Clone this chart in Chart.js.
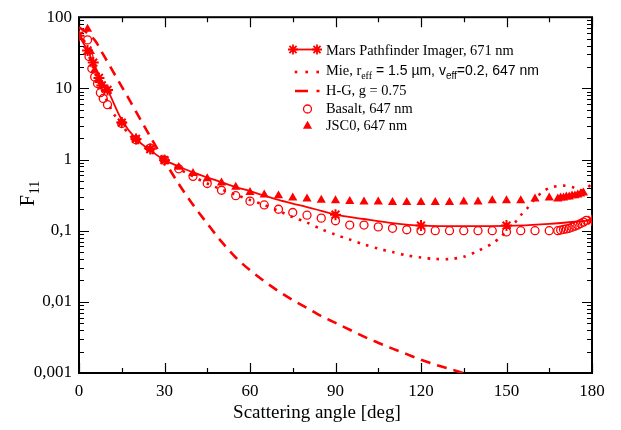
<!DOCTYPE html>
<html>
<head>
<meta charset="utf-8">
<script src="https://cdn.jsdelivr.net/npm/chart.js@4.4.1/dist/chart.umd.min.js"></script>
<style>
  html, body { margin: 0; padding: 0; background: #fff; }
  canvas { display: block; }
</style>
</head>
<body>
<canvas id="chart" width="621" height="430" style="width:621px;height:430px"></canvas>
<script>
// Mars Pathfinder Imager, 671 nm (asterisks)
const mpiAngles = [0, 3, 5, 7, 8, 10, 15, 20, 25, 30, 90, 120, 150, 180];
const mpiValues = [55, 34, 23, 14, 11, 9.5, 3.3, 1.95, 1.4, 0.98, 0.168, 0.118, 0.118, 0.14];

// solid curve drawn through the asterisks
const fitAngles = [0, 3, 5, 7, 10, 15, 20, 25, 30, 35, 40, 45, 50, 55, 60, 65, 70, 75, 80, 85, 90, 100, 110, 120, 135, 150, 165, 180];
const fitValues = [55, 34, 23, 15, 9.5, 3.6, 1.95, 1.35, 0.98, 0.8, 0.66, 0.56, 0.48, 0.41, 0.36, 0.31, 0.27, 0.24, 0.215, 0.19, 0.168, 0.146, 0.128, 0.118, 0.116, 0.117, 0.125, 0.14];

// Mie, reff = 1.5 um, veff = 0.2, 647 nm (dotted)
const mieAngles = [0, 2, 4, 6, 8, 10, 12, 15, 17, 20, 25, 30, 35, 40, 45, 50, 55, 60, 65, 70, 75, 80, 85, 90, 95, 100, 105, 110, 115, 120, 125, 130, 135, 140, 145, 148, 150, 153, 155, 157, 160, 163, 166, 170, 173, 176, 178, 180];
const mieValues = [62, 45, 25, 15, 9.5, 6.5, 4.5, 3.1, 2.4, 1.8, 1.3, 0.97, 0.74, 0.58, 0.46, 0.38, 0.32, 0.27, 0.23, 0.19, 0.155, 0.13, 0.105, 0.088, 0.075, 0.064, 0.056, 0.05, 0.045, 0.042, 0.04, 0.04, 0.043, 0.052, 0.066, 0.082, 0.1, 0.13, 0.165, 0.2, 0.28, 0.36, 0.41, 0.43, 0.41, 0.37, 0.39, 0.46];

// H-G, g = 0.75 (dashed)
const hgAngles = [0, 2, 4, 6, 8, 10, 12, 15, 17, 20, 25, 30, 35, 40, 45, 50, 55, 60, 65, 70, 75, 80, 85, 90, 95, 100, 105, 110, 115, 120, 125, 130, 140];
const hgValues = [72, 64, 55, 44.8, 32.4, 23.6, 17.1, 10.6, 7.7, 4.7, 2.1, 0.95, 0.454, 0.231, 0.126, 0.07, 0.042, 0.0278, 0.0195, 0.0141, 0.0106, 0.0082, 0.0063, 0.00506, 0.00405, 0.00324, 0.00266, 0.0022, 0.00184, 0.00154, 0.00131, 0.00114, 0.00087];

// Basalt, 647 nm (open circles)
const basaltAngles = [3, 3.5, 4.5, 5.5, 6.5, 7.5, 8.5, 10, 15, 20, 25, 30, 35, 40, 45, 50, 55, 60, 65, 70, 75, 80, 85, 90, 95, 100, 105, 110, 115, 120, 125, 130, 135, 140, 145, 150, 155, 160, 165, 168, 169, 170, 171, 172, 173, 174, 175, 176, 177, 178];
const basaltValues = [48, 28, 19, 14.5, 11.7, 8.7, 7.2, 5.9, 3.2, 1.9, 1.45, 0.98, 0.74, 0.58, 0.46, 0.37, 0.31, 0.26, 0.23, 0.2, 0.18, 0.165, 0.15, 0.138, 0.12, 0.12, 0.113, 0.108, 0.103, 0.1, 0.1, 0.1, 0.1, 0.1, 0.1, 0.096, 0.1, 0.1, 0.1, 0.1, 0.102, 0.104, 0.106, 0.108, 0.112, 0.116, 0.12, 0.126, 0.132, 0.14];

// JSC0, 647 nm (filled triangles)
const jscAngles = [3, 4, 5.5, 7, 10, 15, 20, 25, 30, 35, 40, 45, 50, 55, 60, 65, 70, 75, 80, 85, 90, 95, 100, 105, 110, 115, 120, 125, 130, 135, 140, 145, 150, 155, 160, 165, 168, 169, 170, 171, 172, 173, 174, 175, 176, 177];
const jscValues = [68, 33, 18, 13, 9.5, 3.4, 1.95, 1.42, 1.0, 0.78, 0.64, 0.54, 0.47, 0.41, 0.345, 0.32, 0.31, 0.29, 0.28, 0.27, 0.265, 0.258, 0.255, 0.255, 0.25, 0.25, 0.25, 0.25, 0.25, 0.255, 0.255, 0.265, 0.265, 0.265, 0.28, 0.29, 0.28, 0.29, 0.29, 0.3, 0.3, 0.31, 0.31, 0.32, 0.33, 0.34];

const xTicks = [0, 30, 60, 90, 120, 150, 180];
const yTicks = [0.001, 0.01, 0.1, 1, 10, 100];
const yTickLabels = ["0,001", "0,01", "0,1", "1", "10", "100"];

const RED = "#ff0000";
const SERIF = '"Liberation Serif", "Times New Roman", serif';
const SANS = '"Liberation Sans", Arial, sans-serif';

const pts = (xs, ys) => xs.map((x, i) => ({ x, y: ys[i] }));

// ticks point inward on all four sides, plus the box
const frame = {
  id: "frame",
  beforeDatasetsDraw(chart) {
    const { ctx, chartArea: a, scales } = chart;
    const sx = scales.x, sy = scales.y;
    ctx.save();
    ctx.strokeStyle = "#000";
    ctx.lineWidth = 1.2;
    ctx.beginPath();
    const xTick = (v, len) => {
      const px = Math.round(sx.getPixelForValue(v)) + 0.5;
      ctx.moveTo(px, a.bottom); ctx.lineTo(px, a.bottom - len);
      ctx.moveTo(px, a.top); ctx.lineTo(px, a.top + len);
    };
    const yTick = (v, len) => {
      const py = Math.round(sy.getPixelForValue(v)) + 0.5;
      ctx.moveTo(a.left, py); ctx.lineTo(a.left + len, py);
      ctx.moveTo(a.right, py); ctx.lineTo(a.right - len, py);
    };
    xTicks.forEach((v) => xTick(v, 10));
    xTicks.slice(1).forEach((v) => xTick(v - 15, 5));
    yTicks.forEach((v) => yTick(v, 10));
    yTicks.slice(0, -1).forEach((d) => {
      for (let m = 2; m <= 9; m++) yTick(d * m, 5);
    });
    ctx.stroke();
    ctx.lineWidth = 2;
    ctx.strokeRect(a.left, a.top, a.right - a.left, a.bottom - a.top);
    ctx.restore();
  },
  afterDraw(chart) {
    const { ctx } = chart;
    ctx.save();
    ctx.fillStyle = "#000";
    // x title
    ctx.font = "19px " + SERIF;
    ctx.textAlign = "center";
    ctx.textBaseline = "middle";
    ctx.fillText("Scattering angle [deg]", 317, 413);
    // y title F11
    ctx.translate(27, 194);
    ctx.rotate(-Math.PI / 2);
    ctx.textAlign = "left";
    ctx.textBaseline = "alphabetic";
    ctx.font = "20px " + SERIF;
    const fw = ctx.measureText("F").width;
    ctx.font = "14px " + SERIF;
    const sw = ctx.measureText("11").width;
    const x0 = -(fw + sw) / 2;
    ctx.font = "20px " + SERIF;
    ctx.fillText("F", x0, 7);
    ctx.font = "14px " + SERIF;
    ctx.fillText("11", x0 + fw + 1, 12);
    ctx.restore();
    drawLegend(ctx);
  }
};

function drawLegend(ctx) {
  const tx = 326;
  const sx = 307.5;
  ctx.save();
  ctx.strokeStyle = RED;
  ctx.fillStyle = RED;
  // Mars Pathfinder
  let y = 49.5;
  ctx.lineWidth = 1.8;
  ctx.beginPath(); ctx.moveTo(293, y); ctx.lineTo(317, y); ctx.stroke();
  Chart.helpers.drawPoint(ctx, { pointStyle: "star", radius: 5, borderWidth: 2 }, 293, y);
  Chart.helpers.drawPoint(ctx, { pointStyle: "star", radius: 5, borderWidth: 2 }, 317, y);
  // Mie
  y = 72;
  [296, 306.7, 317.7].forEach((x) => ctx.fillRect(x - 1.3, y - 1.3, 2.6, 2.6));
  // H-G
  y = 91;
  ctx.lineWidth = 2.6;
  ctx.beginPath(); ctx.moveTo(295, y); ctx.lineTo(308, y); ctx.moveTo(316.5, y); ctx.lineTo(319.5, y); ctx.stroke();
  // Basalt
  ctx.lineWidth = 1.3;
  ctx.beginPath(); ctx.arc(sx, 109, 4, 0, Math.PI * 2); ctx.stroke();
  // JSC0
  Chart.helpers.drawPoint(ctx, { pointStyle: "triangle", radius: 5.3, borderWidth: 0 }, sx, 126);

  ctx.fillStyle = "#000";
  ctx.textBaseline = "middle";
  ctx.textAlign = "left";
  ctx.font = "14.4px " + SERIF;
  ctx.fillText("Mars Pathfinder Imager, 671 nm", tx, 51);
  ctx.fillText("H-G, g = 0.75", tx, 91);
  ctx.fillText("Basalt, 647 nm", tx, 109);
  ctx.fillText("JSC0, 647 nm", tx, 126);
  // Mie line with subscripts
  let x = tx;
  const seg = (text, font, dy) => {
    ctx.font = font;
    ctx.fillText(text, x, 71 + dy);
    x += ctx.measureText(text).width;
  };
  seg("Mie, r", "14.4px " + SERIF, 0);
  seg("eff", "10px " + SERIF, 5);
  seg(" = 1.5 µm, v", "14px " + SANS, 0);
  seg("eff", "10px " + SANS, 5);
  seg("=0.2, 647 nm", "14px " + SANS, 0);
  ctx.restore();
}

new Chart(document.getElementById("chart"), {
  type: "scatter",
  data: {
    datasets: [
      {
        label: "H-G, g = 0.75",
        data: pts(hgAngles, hgValues),
        showLine: true,
        borderColor: RED,
        borderWidth: 2.6,
        borderDash: [10, 7],
        pointRadius: 0,
        cubicInterpolationMode: "monotone"
      },
      {
        label: "Mie, reff = 1.5 µm, veff=0.2, 647 nm",
        data: pts(mieAngles, mieValues),
        showLine: true,
        borderColor: RED,
        borderWidth: 2.6,
        borderDash: [2.6, 6.4],
        pointRadius: 0,
        tension: 0.3
      },
      {
        label: "fit",
        data: pts(fitAngles, fitValues),
        showLine: true,
        borderColor: RED,
        borderWidth: 1.8,
        pointRadius: 0,
        cubicInterpolationMode: "monotone"
      },
      {
        label: "Basalt, 647 nm",
        data: pts(basaltAngles, basaltValues),
        pointStyle: "circle",
        pointRadius: 4,
        borderWidth: 1.3,
        borderColor: RED,
        backgroundColor: "rgba(255,255,255,0)"
      },
      {
        label: "JSC0, 647 nm",
        data: pts(jscAngles, jscValues),
        pointStyle: "triangle",
        pointRadius: 5.3,
        borderWidth: 0,
        borderColor: RED,
        backgroundColor: RED
      },
      {
        label: "Mars Pathfinder Imager, 671 nm",
        data: pts(mpiAngles, mpiValues),
        pointStyle: "star",
        pointRadius: 5.5,
        borderWidth: 2,
        borderColor: RED,
        backgroundColor: RED
      }
    ]
  },
  options: {
    responsive: false,
    devicePixelRatio: 1,
    animation: false,
    layout: { padding: { left: 0, right: 29, top: 14, bottom: 0 } },
    plugins: { legend: { display: false }, tooltip: { enabled: false } },
    scales: {
      x: {
        type: "linear",
        min: 0,
        max: 180,
        grid: { display: false, drawTicks: false },
        border: { display: false },
        afterFit: (s) => { s.height = 57; },
        afterBuildTicks: (s) => { s.ticks = xTicks.map((v) => ({ value: v })); },
        ticks: { color: "#000", padding: 8, font: { family: SERIF, size: 17 } }
      },
      y: {
        type: "logarithmic",
        min: 0.001,
        max: 100,
        grid: { display: false, drawTicks: false },
        border: { display: false },
        afterFit: (s) => { s.width = 79; },
        afterBuildTicks: (s) => { s.ticks = yTicks.map((v) => ({ value: v })); },
        ticks: {
          color: "#000",
          padding: 7,
          font: { family: SERIF, size: 17 },
          callback: (v) => {
            const i = yTicks.findIndex((t) => Math.abs(t - v) / t < 1e-6);
            return i >= 0 ? yTickLabels[i] : "";
          }
        }
      }
    }
  },
  plugins: [frame]
});
</script>
</body>
</html>
